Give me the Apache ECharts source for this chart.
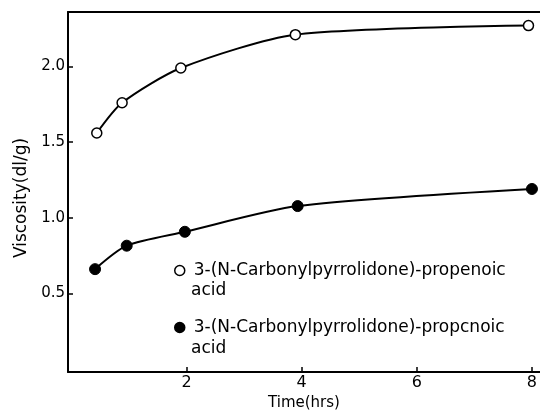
<!DOCTYPE html>
<html>
<head>
<meta charset="utf-8">
<script src="https://cdn.jsdelivr.net/npm/echarts@6/dist/echarts.min.js"></script>
<style>
  html, body { margin: 0; padding: 0; background: #fff; }
  #chart { width: 540px; height: 410px; }
</style>
</head>
<body>
<div id="chart"></div>
<script>
// Intrinsic viscosity of the two polymers versus reaction time
const propenoicTime = [0.44, 0.88, 1.9, 3.89, 7.94];
const propenoicViscosity = [1.56, 1.76, 1.99, 2.21, 2.27];
const propanoicTime = [0.41, 0.96, 1.97, 3.93, 8.0];
const propanoicViscosity = [0.66, 0.815, 0.907, 1.077, 1.19];

const xTicks = [2, 4, 6, 8];
const yTicks = [0.5, 1.0, 1.5, 2.0];
const seriesNames = [
  '3-(N-Carbonylpyrrolidone)-propenoic',
  '3-(N-Carbonylpyrrolidone)-propcnoic'
];

const pairs = (xs, ys) => xs.map((x, i) => [x, ys[i]]);
const font = 'DejaVu Sans';
const ink = '#000';

const chart = echarts.init(document.getElementById('chart'), null, { renderer: 'canvas' });

chart.setOption({
  animation: false,
  backgroundColor: '#fff',
  textStyle: { fontFamily: font, color: ink },
  grid: { left: 68, right: 0, top: 12, bottom: 38, outerBoundsMode: 'none', containLabel: false },
  xAxis: [{
    type: 'value',
    min: -0.06,
    max: 8.14,
    name: 'Time(hrs)',
    nameLocation: 'middle',
    nameGap: 22,
    nameTextStyle: { fontFamily: font, fontSize: 15, color: ink },
    axisLine: { show: true, onZero: false, lineStyle: { color: ink, width: 2 } },
    axisTick: { show: true, inside: true, length: 5, customValues: xTicks, lineStyle: { color: ink, width: 1.5 } },
    axisLabel: { customValues: xTicks, margin: 3, fontSize: 16, color: ink, fontFamily: font },
    splitLine: { show: false }
  }, {
    type: 'value',
    position: 'top',
    min: -0.06,
    max: 8.14,
    axisLine: { show: true, onZero: false, lineStyle: { color: ink, width: 2 } },
    axisTick: { show: false },
    axisLabel: { show: false },
    splitLine: { show: false }
  }],
  yAxis: {
    type: 'value',
    min: -0.02,
    max: 2.36,
    name: 'Viscosity(dl/g)',
    nameLocation: 'middle',
    nameRotate: 90,
    nameGap: 36,
    nameTextStyle: { fontFamily: font, fontSize: 17, color: ink, padding: [0, 12, 0, 0] },
    axisLine: { show: true, onZero: false, lineStyle: { color: ink, width: 2 } },
    axisTick: { show: true, inside: true, length: 5, customValues: yTicks, lineStyle: { color: ink, width: 1.5 } },
    axisLabel: {
      customValues: yTicks, margin: 3, fontSize: 15, color: ink, fontFamily: font,
      formatter: v => v.toFixed(1)
    },
    splitLine: { show: false }
  },
  legend: {
    orient: 'vertical',
    left: 169,
    top: 257,
    itemWidth: 18,
    itemHeight: 10,
    itemGap: 40,
    icon: 'circle',
    textStyle: { fontFamily: font, fontSize: 17, color: ink },
    data: [
      { name: seriesNames[0], itemStyle: { color: '#fff', borderColor: ink, borderWidth: 1.5 } },
      { name: seriesNames[1], itemStyle: { color: ink, borderColor: ink, borderWidth: 1.5 } }
    ]
  },
  graphic: [
    { type: 'text', left: 191, top: 282, style: { text: 'acid', fontFamily: font, fontSize: 17, fill: ink } },
    { type: 'text', left: 191, top: 340, style: { text: 'acid', fontFamily: font, fontSize: 17, fill: ink } }
  ],
  series: [{
    name: seriesNames[0],
    type: 'line',
    data: pairs(propenoicTime, propenoicViscosity),
    smooth: 0.25,
    symbol: 'circle',
    symbolSize: 10,
    lineStyle: { color: ink, width: 2 },
    itemStyle: { color: '#fff', borderColor: ink, borderWidth: 1.5 },
    z: 3
  }, {
    name: seriesNames[1],
    type: 'line',
    data: pairs(propanoicTime, propanoicViscosity),
    smooth: 0.25,
    symbol: 'circle',
    symbolSize: 11,
    lineStyle: { color: ink, width: 2 },
    itemStyle: { color: ink, borderColor: ink, borderWidth: 1 },
    z: 3
  }]
});
</script>
</body>
</html>
